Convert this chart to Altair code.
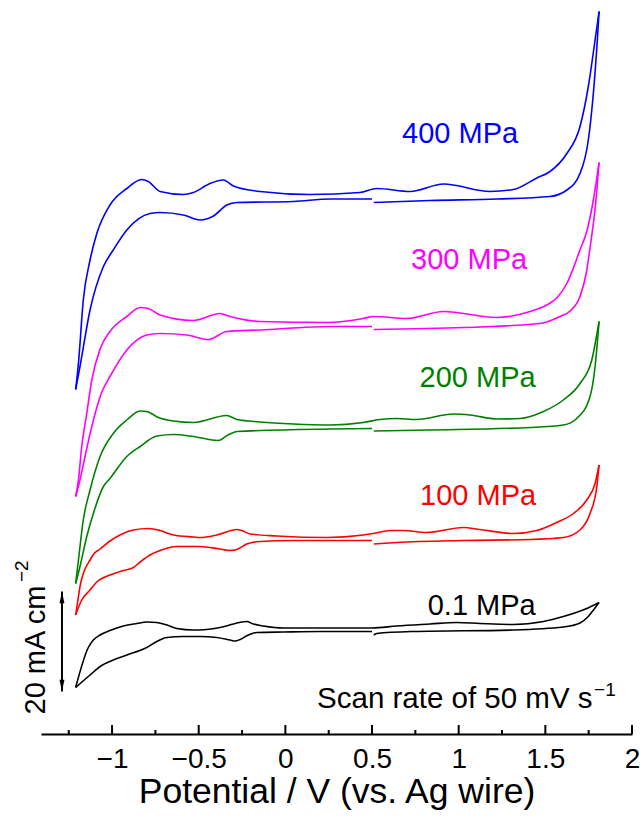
import altair as alt
import pandas as pd

FONT = "Liberation Sans"

# ---------------- data: potential (V vs Ag wire), offset current density (mA cm^-2)
# 0.1 MPa
P01_FWD_E = [-1.21, -1.137, -1.108, -1.069, -1.012, -0.935, -0.857, -0.80, -0.742, -0.684, -0.627, -0.531, -0.454,
             -0.377, -0.30, -0.252, -0.223, -0.185, -0.127, -0.012, 0.20, 0.50, 0.643, 0.835, 0.989, 1.123, 1.316,
             1.489, 1.604, 1.739, 1.81]
P01_FWD_J = [9.3, 17.3, 18.8, 19.8, 20.7, 21.6, 22.1, 22.4, 22.3, 21.8, 21.1, 20.8, 20.9,
             21.3, 22.0, 22.4, 22.5, 22.0, 21.6, 21.2, 21.2, 21.2, 21.6, 22.0, 22.3, 22.1, 21.9,
             22.5, 23.5, 25.1, 26.3]
P01_RETR_E = [0.51, 0.527, 0.739, 1.316, 1.604, 1.70, 1.745, 1.78, 1.81]
P01_RETR_J = [19.8, 20.1, 20.5, 20.8, 21.4, 22.2, 23.4, 24.9, 26.3]
P01_RETL_E = [-1.21, -1.127, -1.069, -0.993, -0.915, -0.80, -0.742, -0.684, -0.589, -0.492, -0.396, -0.319, -0.29,
              -0.261, -0.213, -0.165, -0.012, 0.20, 0.50]
P01_RETL_J = [9.3, 11.8, 13.5, 14.8, 15.8, 17.3, 18.5, 19.3, 19.5, 19.5, 19.3, 18.8, 18.6,
              18.9, 19.8, 20.3, 20.4, 20.5, 20.5]

# 100 MPa
P100_FWD_E = [-1.21, -1.194, -1.185, -1.166, -1.156, -1.127, -1.108, -1.069, -1.012, -0.954, -0.877, -0.791, -0.723,
              -0.646, -0.531, -0.492, -0.396, -0.28, -0.252, -0.204, -0.05, 0.239, 0.45, 0.508, 0.604, 0.679, 0.816,
              1.027, 1.123, 1.316, 1.451, 1.566, 1.662, 1.739, 1.787, 1.81]
P100_FWD_J = [23.8, 27.5, 29.5, 32.1, 33.0, 34.8, 35.9, 37.0, 38.6, 39.8, 40.8, 41.1, 40.7,
              39.8, 39.4, 39.3, 39.8, 40.9, 40.7, 40.0, 39.6, 39.3, 39.8, 40.1, 40.7, 40.7, 40.3,
              41.3, 40.9, 40.1, 40.7, 42.3, 44.1, 46.8, 50.1, 53.8]
P100_RETR_E = [0.51, 0.643, 1.027, 1.412, 1.604, 1.70, 1.758, 1.797, 1.81]
P100_RETR_J = [38.0, 38.3, 38.7, 38.9, 39.3, 40.8, 44.1, 49.5, 53.8]
P100_RETL_E = [-1.21, -1.175, -1.127, -1.088, -1.012, -0.935, -0.877, -0.838, -0.781, -0.723, -0.627, -0.492, -0.377,
               -0.319, -0.28, -0.223, -0.146, 0.046, 0.50]
P100_RETL_J = [23.8, 26.8, 28.8, 30.4, 31.8, 32.7, 33.3, 34.4, 35.8, 36.7, 37.5, 37.5, 37.0,
               36.7, 36.9, 38.0, 38.5, 38.7, 38.7]

# 200 MPa
P200_FWD_E = [-1.21, -1.194, -1.166, -1.127, -1.069, -0.993, -0.915, -0.838, -0.80, -0.733, -0.646, -0.531, -0.338,
              -0.28, -0.146, 0.046, 0.258, 0.45, 0.546, 0.643, 0.758, 0.969, 1.066, 1.22, 1.354, 1.489, 1.604, 1.70,
              1.768, 1.81]
P200_FWD_J = [30.1, 34.8, 42.8, 48.8, 55.5, 60.1, 62.8, 64.6, 64.5, 63.3, 62.6, 62.3, 63.7,
              62.9, 62.4, 62.0, 61.8, 62.3, 62.9, 63.1, 62.9, 64.0, 63.8, 63.0, 63.1, 64.5, 66.8, 70.1,
              74.8, 82.5]
P200_RETR_E = [0.51, 0.835, 1.412, 1.604, 1.681, 1.758, 1.787, 1.81]
P200_RETR_J = [60.6, 60.8, 61.3, 61.8, 63.1, 67.5, 73.5, 82.5]
P200_RETL_E = [-1.21, -1.185, -1.146, -1.108, -1.05, -1.012, -0.915, -0.838, -0.742, -0.646, -0.531, -0.387, -0.331,
               -0.28, 0.258, 0.50]
P200_RETL_J = [30.1, 33.5, 39.5, 44.1, 49.5, 51.1, 55.5, 57.5, 59.6, 59.9, 59.5, 58.7, 59.8,
               60.5, 61.0, 61.1]

# 300 MPa
P300_FWD_E = [-1.21, -1.194, -1.175, -1.146, -1.117, -1.069, -1.012, -0.915, -0.838, -0.791, -0.723, -0.531, -0.377,
              -0.319, -0.146, 0.239, 0.45, 0.508, 0.701, 0.912, 1.22, 1.412, 1.508, 1.566, 1.624, 1.70, 1.739, 1.777,
              1.81]
P300_FWD_J = [47.5, 50.8, 57.5, 64.1, 70.8, 77.0, 80.5, 83.5, 85.3, 85.1, 83.8, 82.7, 84.1,
              83.5, 82.5, 82.3, 83.1, 83.5, 83.1, 84.5, 83.3, 84.5, 85.8, 87.2, 90.1, 96.8, 100.5, 106.8,
              114.3]
P300_RETR_E = [0.51, 1.027, 1.469, 1.585, 1.643, 1.70, 1.735, 1.765, 1.79, 1.81]
P300_RETR_J = [80.9, 81.3, 82.1, 83.5, 84.6, 87.5, 92.0, 99.0, 106.0, 114.3]
P300_RETL_E = [-1.21, -1.185, -1.156, -1.117, -1.059, -1.012, -0.915, -0.80, -0.723, -0.569, -0.444, -0.338, -0.146,
               0.258, 0.50]
P300_RETL_J = [47.5, 50.8, 55.5, 61.5, 68.4, 71.5, 76.8, 79.8, 80.1, 79.8, 78.9, 80.5, 80.8,
               81.5, 81.5]

# 400 MPa
P400_FWD_E = [-1.21, -1.194, -1.166, -1.127, -1.088, -1.012, -0.915, -0.829, -0.791, -0.723, -0.589, -0.531, -0.435,
              -0.358, -0.30, -0.146, 0.143, 0.431, 0.527, 0.72, 0.912, 1.181, 1.316, 1.451, 1.527, 1.624, 1.70, 1.748,
              1.787, 1.81]
P400_FWD_J = [68.9, 74.1, 86.8, 94.8, 100.1, 105.8, 109.1, 110.9, 110.5, 108.5, 107.9, 108.3, 110.1,
              110.8, 109.6, 108.5, 107.9, 108.3, 109.1, 108.5, 110.0, 108.5, 108.9, 111.2, 112.5, 116.1, 121.5, 129.5,
              138.8, 144.5]
P400_RETR_E = [0.51, 0.835, 1.22, 1.527, 1.624, 1.70, 1.748, 1.777, 1.80, 1.81]
P400_RETR_J = [106.3, 106.7, 107.0, 107.5, 108.8, 112.1, 118.8, 128.1, 138.8, 144.5]
P400_RETL_E = [-1.21, -1.185, -1.127, -1.05, -0.993, -0.915, -0.781, -0.723, -0.589, -0.492, -0.415, -0.338, -0.28,
               0.046, 0.258, 0.50]
P400_RETL_J = [68.9, 73.5, 84.8, 93.5, 96.8, 100.8, 104.1, 104.3, 103.8, 102.8, 103.6, 105.8, 106.3,
               106.5, 107.0, 107.0]

CURVE_NAMES = ["0.1 MPa", "100 MPa", "200 MPa", "300 MPa", "400 MPa"]
CURVE_COLORS = ["#000000", "#ff0000", "#008000", "#ff00ff", "#0000ff"]

# label anchors (V, mA cm^-2)
LABEL_E = [1.133, 1.112, 1.109, 1.06, 1.008]
LABEL_J = [23.8, 45.8, 69.5, 93.0, 118.3]

MAJOR_TICKS = [-1.0, -0.5, 0.0, 0.5, 1.0, 1.5, 2.0]
MINOR_TICKS = [-1.25, -0.75, -0.25, 0.25, 0.75, 1.25, 1.75]

SCALE_BAR_E = -1.289
SCALE_BAR_J = [8.5, 28.5]  # 20 mA cm^-2

# ---------------- build tables
segments = {
    "0.1 MPa": [(P01_FWD_E, P01_FWD_J), (P01_RETR_E, P01_RETR_J), (P01_RETL_E, P01_RETL_J)],
    "100 MPa": [(P100_FWD_E, P100_FWD_J), (P100_RETR_E, P100_RETR_J), (P100_RETL_E, P100_RETL_J)],
    "200 MPa": [(P200_FWD_E, P200_FWD_J), (P200_RETR_E, P200_RETR_J), (P200_RETL_E, P200_RETL_J)],
    "300 MPa": [(P300_FWD_E, P300_FWD_J), (P300_RETR_E, P300_RETR_J), (P300_RETL_E, P300_RETL_J)],
    "400 MPa": [(P400_FWD_E, P400_FWD_J), (P400_RETR_E, P400_RETR_J), (P400_RETL_E, P400_RETL_J)],
}
rows = []
for name in CURVE_NAMES:
    for k, (es, js) in enumerate(segments[name]):
        assert len(es) == len(js), (name, k, len(es), len(js))
        for e, j in zip(es, js):
            rows.append({"curve": name, "seg": f"{name}-{k}", "E": e, "J": j})
df = pd.DataFrame(rows)

labels_df = pd.DataFrame({"curve": CURVE_NAMES, "E": LABEL_E, "J": LABEL_J, "text": CURVE_NAMES})

xscale = alt.Scale(domain=[-1.41, 2.0], nice=False, zero=False)
yscale = alt.Scale(domain=[0, 146.8], nice=False, zero=False)
xaxis = alt.Axis(
    values=MAJOR_TICKS, format="~g", ticks=False, tickSize=0, grid=False,
    labelFont=FONT, labelFontSize=28, labelColor="black", labelPadding=33,
    labelBaseline="alphabetic", labelFlush=False,
    domainColor="black", domainWidth=2,
    title="Potential / V (vs. Ag wire)", titleFont=FONT, titleFontSize=35.5,
    titleFontWeight="normal", titleColor="black", titleY=68, titleBaseline="alphabetic",
)
X = alt.X("E:Q", scale=xscale, axis=xaxis)
Y = alt.Y("J:Q", scale=yscale, axis=None)
color = alt.Color("curve:N", scale=alt.Scale(domain=CURVE_NAMES, range=CURVE_COLORS), legend=None)

lines = alt.Chart(df).mark_line(strokeWidth=1.6, interpolate="monotone").encode(
    x=X, y=Y, color=color, detail="seg:N"
)

texts = alt.Chart(labels_df).mark_text(
    font=FONT, fontSize=29, align="center", baseline="alphabetic"
).encode(x=X, y=Y, color=color, text="text:N")

major = alt.Chart(pd.DataFrame({"E": MAJOR_TICKS})).mark_rule(color="black", strokeWidth=2).encode(
    x=X, y=alt.value(734), y2=alt.value(725)
)
minor = alt.Chart(pd.DataFrame({"E": MINOR_TICKS})).mark_rule(color="black", strokeWidth=2).encode(
    x=X, y=alt.value(734), y2=alt.value(730)
)

bar_df = pd.DataFrame({"E": [SCALE_BAR_E], "J": [SCALE_BAR_J[0]], "J2": [SCALE_BAR_J[1]]})
bar = alt.Chart(bar_df).mark_rule(color="black", strokeWidth=2).encode(x=X, y=Y, y2="J2:Q")
head_up = alt.Chart(pd.DataFrame({"E": [SCALE_BAR_E], "J": [SCALE_BAR_J[1]]})).mark_point(
    shape="M0,-1L-0.42,1L0.42,1Z", size=137, filled=True, opacity=1, color="black", strokeWidth=0, yOffset=5.85
).encode(x=X, y=Y)
head_dn = alt.Chart(pd.DataFrame({"E": [SCALE_BAR_E], "J": [SCALE_BAR_J[0]]})).mark_point(
    shape="M0,1L-0.42,-1L0.42,-1Z", size=137, filled=True, opacity=1, color="black", strokeWidth=0, yOffset=-5.85
).encode(x=X, y=Y)

bar_text = alt.Chart(pd.DataFrame({"E": [-1.387], "J": [16.8], "t": ["20 mA cm"]})).mark_text(
    font=FONT, fontSize=29, angle=270, align="center", baseline="alphabetic", color="black"
).encode(x=X, y=Y, text="t:N")
bar_sup = alt.Chart(pd.DataFrame({"E": [-1.485], "J": [30.4], "t": ["\u22122"]})).mark_text(
    font=FONT, fontSize=19, angle=270, align="left", baseline="alphabetic", color="black"
).encode(x=X, y=Y, text="t:N")

scan_text = alt.Chart(pd.DataFrame({"E": [0.183], "J": [5.2], "t": ["Scan rate of 50 mV s"]})).mark_text(
    font=FONT, fontSize=29.5, align="left", baseline="alphabetic", color="black"
).encode(x=X, y=Y, text="t:N")
scan_sup = alt.Chart(pd.DataFrame({"E": [1.781], "J": [7.6], "t": ["\u22121"]})).mark_text(
    font=FONT, fontSize=19, align="left", baseline="alphabetic", color="black"
).encode(x=X, y=Y, text="t:N")

chart = alt.layer(
    lines, texts, major, minor, bar, head_up, head_dn, bar_text, bar_sup, scan_text, scan_sup
).properties(
    width=591, height=734,
    autosize=alt.AutoSizeParams(type="none"),
    padding={"left": 41, "top": 0, "right": 10, "bottom": 84},
    background="white",
).configure(font=FONT).configure_view(stroke=None, strokeWidth=0)

chart.save("out.html", embed_options={"renderer": "svg", "actions": False})
